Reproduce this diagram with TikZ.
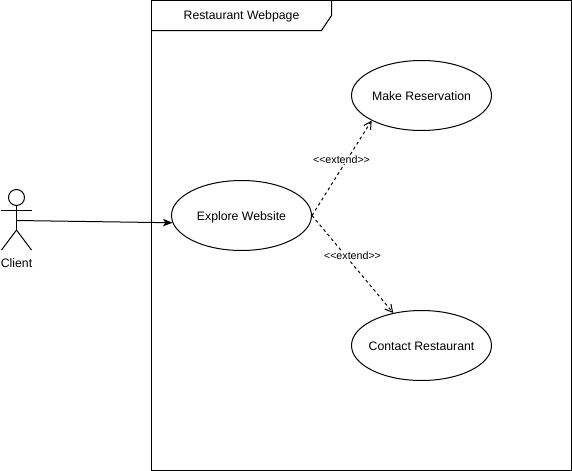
\documentclass[tikz,border=0pt]{standalone}
\usepackage{fontspec}
\setmainfont{Liberation Sans}
\usetikzlibrary{arrows.meta,shapes.geometric}
\tikzstyle{usecase}=[
  draw,ellipse,inner sep=-6pt,minimum width=105pt,minimum height=52.5pt,fill=white,text height=8.8pt,text depth=2pt,font=\fontsize{9.2pt}{11pt}\selectfont
]
\tikzstyle{frame}=[
  draw,inner sep=0pt,minimum width=315pt,minimum height=352.5pt
]
\tikzstyle{plain}=[
  inner sep=0pt,text height=8.8pt,text depth=2pt,font=\fontsize{9.2pt}{11pt}\selectfont
]
\tikzstyle{extendlabel}=[
  fill=white,inner sep=0.5pt,font=\fontsize{8pt}{10pt}\selectfont
]
\tikzstyle{assoc}=[
  -{Stealth[length=7pt,width=5.5pt,inset=1.5pt]},line width=0.75pt
]
\tikzstyle{extendedge}=[
  -{Straight Barb[length=5.5pt,width=6pt]},line width=0.75pt,dash pattern=on 2.25pt off 2.25pt
]
\begin{document}
\begin{tikzpicture}[x=0.75pt,y=-0.75pt,line width=0.75pt]
  \useasboundingbox (0,0) rectangle (572,471);
  \node (page) at (361.5,235.5) [frame] {};
  \node (title) at (241.5,15) [plain] {Restaurant Webpage};
  \draw (page.west |- 0,30.5) -- (321.5,30.5) -- (331.5,15.5) -- (331.5,0.5);
  % actor
  \node (head) at (16.5,197.5) [draw,circle,inner sep=0pt,minimum size=12pt] {};
  \coordinate (hip) at (16.5,230);
  \coordinate (hand) at (16.5,220.5);
  \draw (head) -- (hip);
  \draw (1.5,210) -- (31.5,210);
  \draw (1.5,250) -- (hip) -- (31.5,250);
  \node (client) at (16.5,263) [plain] {Client};
  % use cases
  \node (explore) at (241.5,215.5) [usecase] {Explore Website};
  \node (reserve) at (421.5,95.5) [usecase] {Make Reservation};
  \node (contact) at (421.5,345.5) [usecase] {Contact Restaurant};
  \draw [assoc] (hand) -- (explore.186);
  \draw [extendedge] (explore.east) -- (reserve.south west);
  \draw [extendedge] (explore.east) -- (contact.131);
  \node (ext1) at (341.5,159.5) [extendlabel] {<{}<extend>{}>};
  \node (ext2) at (352.5,255.5) [extendlabel] {<{}<extend>{}>};
\end{tikzpicture}
\end{document}
